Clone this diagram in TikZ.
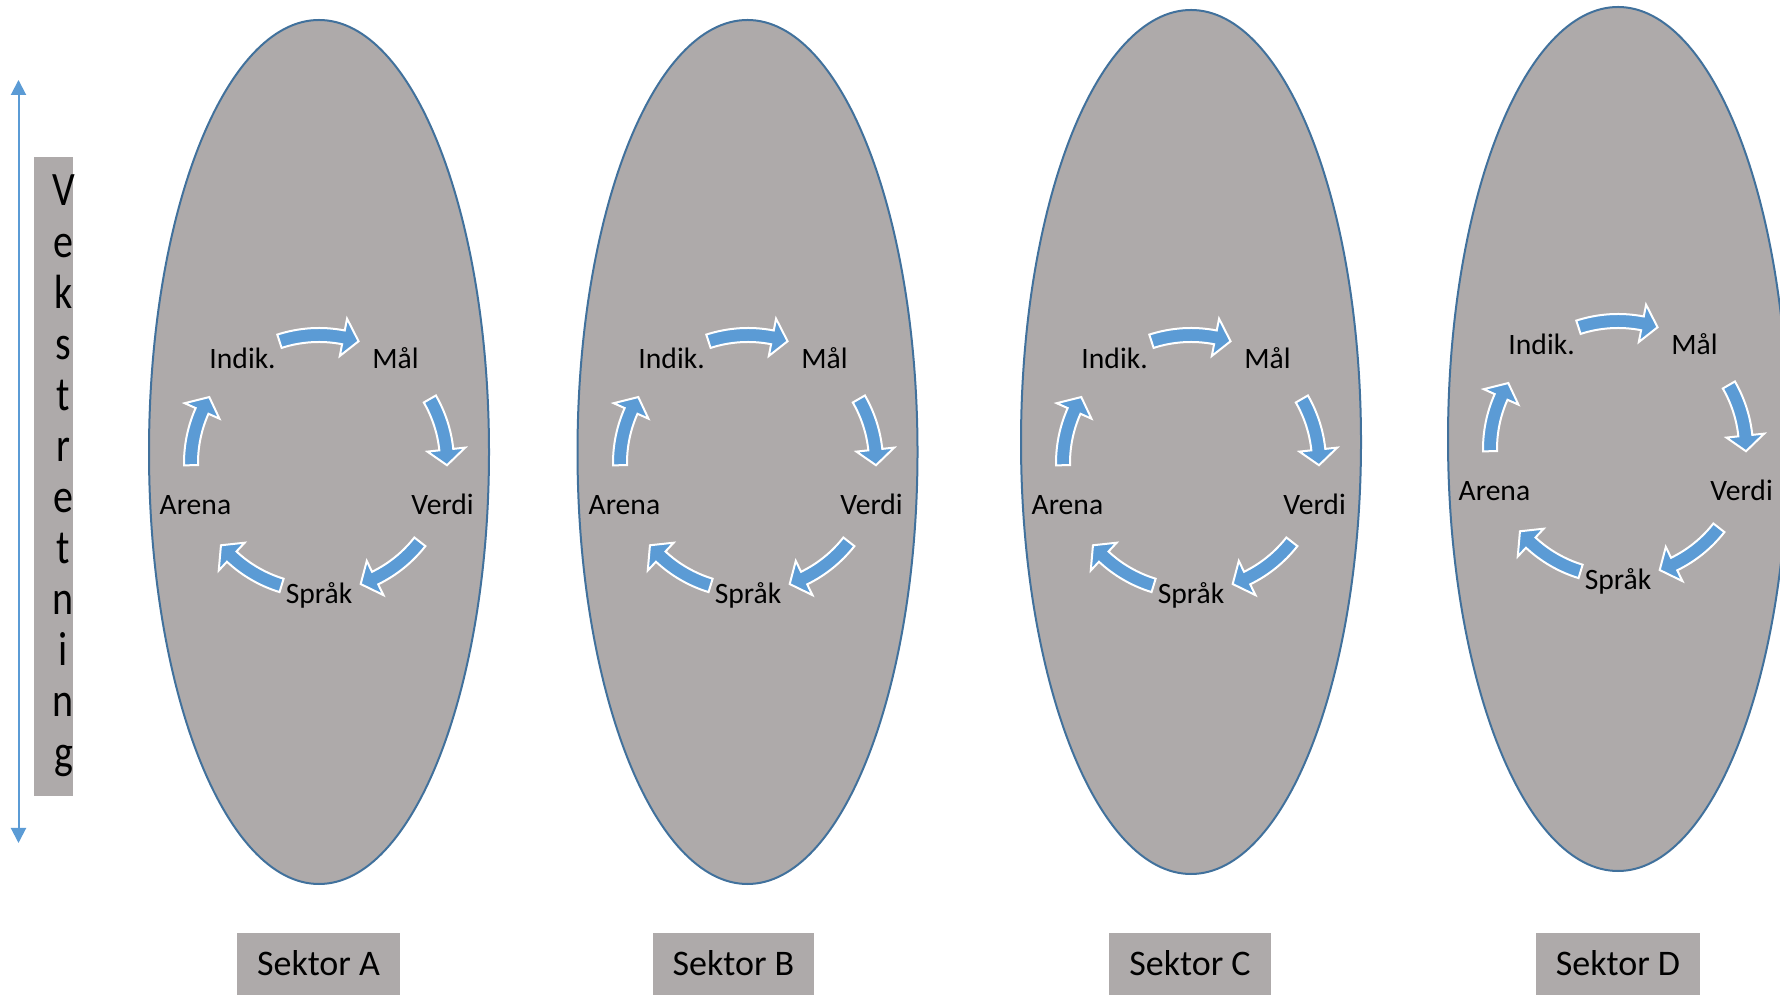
\documentclass[tikz,border=0pt]{standalone}
\usepackage{fontspec}
\setmainfont{Carlito}
\usepackage{graphicx}
\usetikzlibrary{shapes.geometric,arrows.meta}
\definecolor{ellgray}{HTML}{AEAAAA}
\definecolor{ellline}{HTML}{41719C}
\definecolor{arrblue}{HTML}{5B9BD5}

% curved block arrow: tail angle, head-base angle, tip angle (around the cycle centre)
\newcommand\carrow[3]{%
  \filldraw[cyarrow] (#1:135) arc[start angle=#1, end angle=#2, radius=135]
    -- (#2:147) -- (#3:128) -- (#2:109) -- (#2:121)
    arc[start angle=#2, end angle=#1, radius=121] -- cycle;}

\tikzset{
  sector/.style={ellipse, draw=ellline, fill=ellgray, line width=1pt,
    minimum width=170pt, minimum height=432pt, inner sep=0pt},
  cyarrow/.style={fill=arrblue, draw=white, line width=1pt, line join=miter},
  lbl/.style={anchor=base, inner sep=0pt, font=\fontsize{14.8}{17}\selectfont},
  sektorbox/.style={fill=ellgray, minimum height=31pt, inner sep=0pt,
    font=\fontsize{18}{21}\selectfont},
  vletter/.style={anchor=base, inner sep=0pt, font=\fontsize{20}{22}\selectfont},
  vaxis/.style={draw=arrblue, line width=1pt,
    {Triangle[length=7.5pt,width=7.5pt]}-{Triangle[length=7.5pt,width=7.5pt]}},
  sectorcycle/.pic={
    \carrow{108}{79}{72}
    \carrow{30}{6}{-1}
    \carrow{-38}{-64}{-71}
    \carrow{-107}{-133}{-140}
    \carrow{181}{156}{149}
    \node[lbl] (-ind) at (-76.4,94) {Indik.};
    \node[lbl] (-mal) at (76.4,94) {Mål};
    \node[lbl] (-verdi) at (123.6,-51.5) {Verdi};
    \node[lbl] (-sprak) at (0,-141) {Språk};
    \node[lbl] (-arena) at (-123.6,-51.5) {Arena};
  }
}

\begin{document}
\begin{tikzpicture}[x=0.5pt,y=0.5pt]
\clip (0,0) rectangle (1780,995);

% growth axis
\coordinate (vt) at (18.5,915);
\coordinate (vb) at (18.5,152);
\draw[vaxis] (vb) -- (vt);
\node[fill=ellgray, minimum width=19.5pt, minimum height=319.5pt, inner sep=0pt] (vbox) at (53.5,518.5) {};
\foreach \ch [count=\i] in {V,e,k,s,t,r,e,t,n,i,n,g}
  \node[vletter] (v\i) at (63.5,{789-51.1*(\i-1)}) {\scalebox{1}[1.2]{\ch}};

% sectors
\node[sector] (ellA) at (319,543) {};
\node[sector] (ellB) at (747.5,543) {};
\node[sector] (ellC) at (1191,553) {};
\node[sector] (ellD) at (1618,556) {};

\pic (A) at (319,532) {sectorcycle};
\pic (B) at (748,532) {sectorcycle};
\pic (C) at (1191,532) {sectorcycle};
\pic (D) at (1618,546) {sectorcycle};

\node[sektorbox, minimum width=81.5pt] (sA) at (318.5,31.5) {\raisebox{-1pt}{Sektor A}};
\node[sektorbox, minimum width=80.5pt] (sB) at (733.5,31.5) {\raisebox{-1pt}{Sektor B}};
\node[sektorbox, minimum width=81pt] (sC) at (1190,31.5) {\raisebox{-1pt}{Sektor C}};
\node[sektorbox, minimum width=82pt] (sD) at (1618,31.5) {\raisebox{-1pt}{Sektor D}};
\end{tikzpicture}
\end{document}
